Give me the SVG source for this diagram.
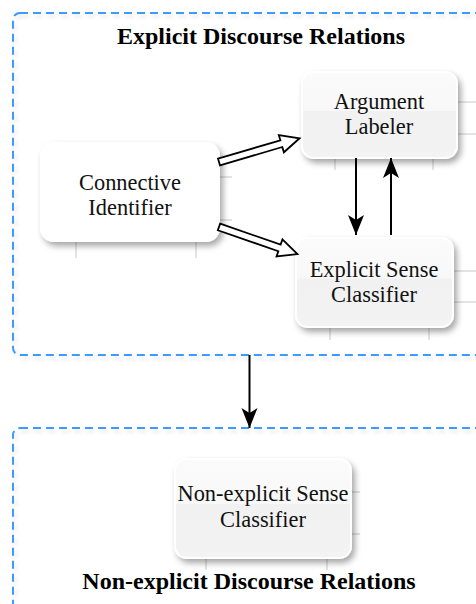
<svg xmlns="http://www.w3.org/2000/svg" width="476" height="604" viewBox="0 0 476 604">
<style>
.grp{fill:none;stroke:#3d9bff;stroke-width:2;stroke-dasharray:8 5}
.title{font-family:"Liberation Serif",serif;font-weight:bold;font-size:24px;fill:#000;text-anchor:middle}
.lbl{font-family:"Liberation Serif",serif;font-size:22.4px;fill:#111;text-anchor:middle}
.box{fill:url(#glass);stroke:#ffffff;stroke-width:2}
.guide{stroke:#c8c8c8;stroke-width:1}
.conn{stroke:#000;stroke-width:2;fill:none}
.hollow{fill:#fff;stroke:#000;stroke-width:1.8;stroke-linejoin:miter}
</style>
<defs>
<filter id="sh" x="-20%" y="-20%" width="150%" height="160%">
<feDropShadow dx="3" dy="4" stdDeviation="3" flood-color="#000" flood-opacity="0.35"/>
</filter>
<filter id="gsh" x="-5%" y="-5%" width="110%" height="110%">
<feDropShadow dx="2" dy="3" stdDeviation="2" flood-color="#000" flood-opacity="0.12"/>
</filter>
<linearGradient id="glass" x1="0" y1="0" x2="0" y2="1">
<stop offset="0" stop-color="#fbfbfb"/>
<stop offset="0.45" stop-color="#f8f8f8"/>
<stop offset="0.46" stop-color="#f1f1f1"/>
<stop offset="1" stop-color="#f3f3f3"/>
</linearGradient>
<marker id="ah" viewBox="0 0 20 20" refX="20" refY="10" markerWidth="20" markerHeight="20" markerUnits="userSpaceOnUse" orient="auto">
<path d="M0,2 L20,10 L0,18 L5,10 Z" fill="#000"/>
</marker>
</defs>

<g id="group-explicit">
<rect class="grp" x="13" y="13" width="480" height="342" rx="7" filter="url(#gsh)"/>
<text class="title" x="261" y="44">Explicit Discourse Relations</text>
</g>
<g id="group-nonexplicit">
<rect class="grp" x="13" y="428" width="480" height="190" rx="7" filter="url(#gsh)"/>
<text class="title" x="249" y="589">Non-explicit Discourse Relations</text>
</g>

<g id="guides">
<line class="guide" x1="76" y1="242" x2="76" y2="258"/>
<line class="guide" x1="196" y1="242" x2="196" y2="258"/>
<line class="guide" x1="220" y1="177" x2="232" y2="177"/>
<line class="guide" x1="220" y1="220" x2="232" y2="220"/>
<line class="guide" x1="457" y1="102" x2="476" y2="102"/>
<line class="guide" x1="457" y1="134" x2="476" y2="134"/>
<line class="guide" x1="335" y1="158" x2="335" y2="170"/>
<line class="guide" x1="433" y1="158" x2="433" y2="170"/>
<line class="guide" x1="453" y1="271" x2="476" y2="271"/>
<line class="guide" x1="453" y1="302" x2="476" y2="302"/>
<line class="guide" x1="330" y1="327" x2="330" y2="340"/>
<line class="guide" x1="429" y1="327" x2="429" y2="340"/>
<line class="guide" x1="351" y1="492" x2="360" y2="492"/>
<line class="guide" x1="351" y1="534" x2="360" y2="534"/>
<line class="guide" x1="206" y1="558" x2="206" y2="570"/>
<line class="guide" x1="327" y1="558" x2="327" y2="570"/>
</g>

<g id="connective-identifier">
<rect x="40" y="142" width="180" height="100" rx="14" fill="#fff" filter="url(#sh)"/>
<text class="lbl" x="130" y="190">Connective</text>
<text class="lbl" x="130" y="215">Identifier</text>
</g>

<g id="argument-labeler">
<rect class="box" x="302" y="72" width="155" height="86" rx="12" filter="url(#sh)"/>
<text class="lbl" x="379" y="109">Argument</text>
<text class="lbl" x="379" y="134">Labeler</text>
</g>

<g id="explicit-sense-classifier">
<rect class="box" x="296" y="238" width="157" height="89" rx="12" filter="url(#sh)"/>
<text class="lbl" x="374" y="277">Explicit Sense</text>
<text class="lbl" x="374" y="302">Classifier</text>
</g>

<g id="nonexplicit-sense-classifier">
<rect class="box" x="175" y="459" width="176" height="99" rx="12" filter="url(#sh)"/>
<text class="lbl" x="263" y="501">Non-explicit Sense</text>
<text class="lbl" x="263" y="527">Classifier</text>
</g>

<g id="connectors">
<g transform="translate(219,162) rotate(-16.4)">
<path class="hollow" d="M0,-3.5 L65,-3.5 L65,-9 L84,0 L65,9 L65,3.5 L0,3.5 Z"/>
</g>
<g transform="translate(219,227) rotate(19.1)">
<path class="hollow" d="M0,-3.5 L64,-3.5 L64,-9 L83,0 L64,9 L64,3.5 L0,3.5 Z"/>
</g>
<line class="conn" x1="356" y1="158" x2="356" y2="235" marker-end="url(#ah)"/>
<line class="conn" x1="391" y1="235" x2="391" y2="158" marker-end="url(#ah)"/>
<line class="conn" x1="249.5" y1="355" x2="249.5" y2="428" marker-end="url(#ah)"/>
</g>
</svg>
